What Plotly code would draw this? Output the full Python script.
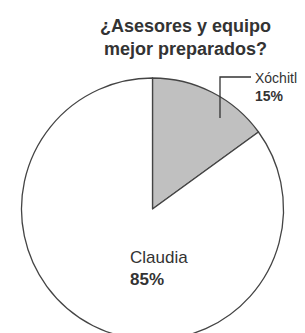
import plotly.graph_objects as go

labels = ["Xóchitl", "Claudia"]
values = [15, 85]
colors = ["#c0c0c0", "#ffffff"]
title_lines = ["¿Asesores y equipo", "mejor preparados?"]

W, H = 305, 333

fig = go.Figure(go.Pie(
    labels=labels,
    values=values,
    sort=False,
    direction="clockwise",
    rotation=0,
    marker=dict(colors=colors, line=dict(color="#444444", width=1.3)),
    textinfo="none",
    hoverinfo="label+percent",
    domain=dict(x=[13 / W, 276 / W], y=[1 / H, 263 / H]),
    showlegend=False,
))

fig.add_annotation(
    x=177 / W, y=1 - 6 / H, xref="paper", yref="paper",
    text="<b>" + "<br>".join(title_lines) + "</b>",
    showarrow=False, xanchor="center", yanchor="top",
    font=dict(family="Liberation Sans", size=18, color="#333333"),
)

# Xóchitl callout
fig.add_shape(type="path", xref="paper", yref="paper",
              path=f"M {212/W} {1-110/H} L {212/W} {1-69/H} L {243/W} {1-69/H}",
              line=dict(color="#333333", width=1.3))
fig.add_annotation(
    x=303 / W, y=1 - 60 / H, xref="paper", yref="paper",
    text=f"{labels[0]}<br><b>{values[0]}%</b>",
    showarrow=False, xanchor="right", yanchor="top", align="left",
    width=54,
    font=dict(family="Liberation Sans", size=14, color="#333333"),
)
fig.add_annotation(
    x=120 / W, y=1 - 238 / H, xref="paper", yref="paper",
    text=f"{labels[1]}<br><b>{values[1]}%</b>",
    showarrow=False, xanchor="left", yanchor="top", align="left",
    font=dict(family="Liberation Sans", size=17, color="#333333"),
)

fig.update_layout(
    width=W, height=H,
    margin=dict(l=0, r=0, t=0, b=0),
    paper_bgcolor="white", plot_bgcolor="white",
)

fig.write_html("out.html")
